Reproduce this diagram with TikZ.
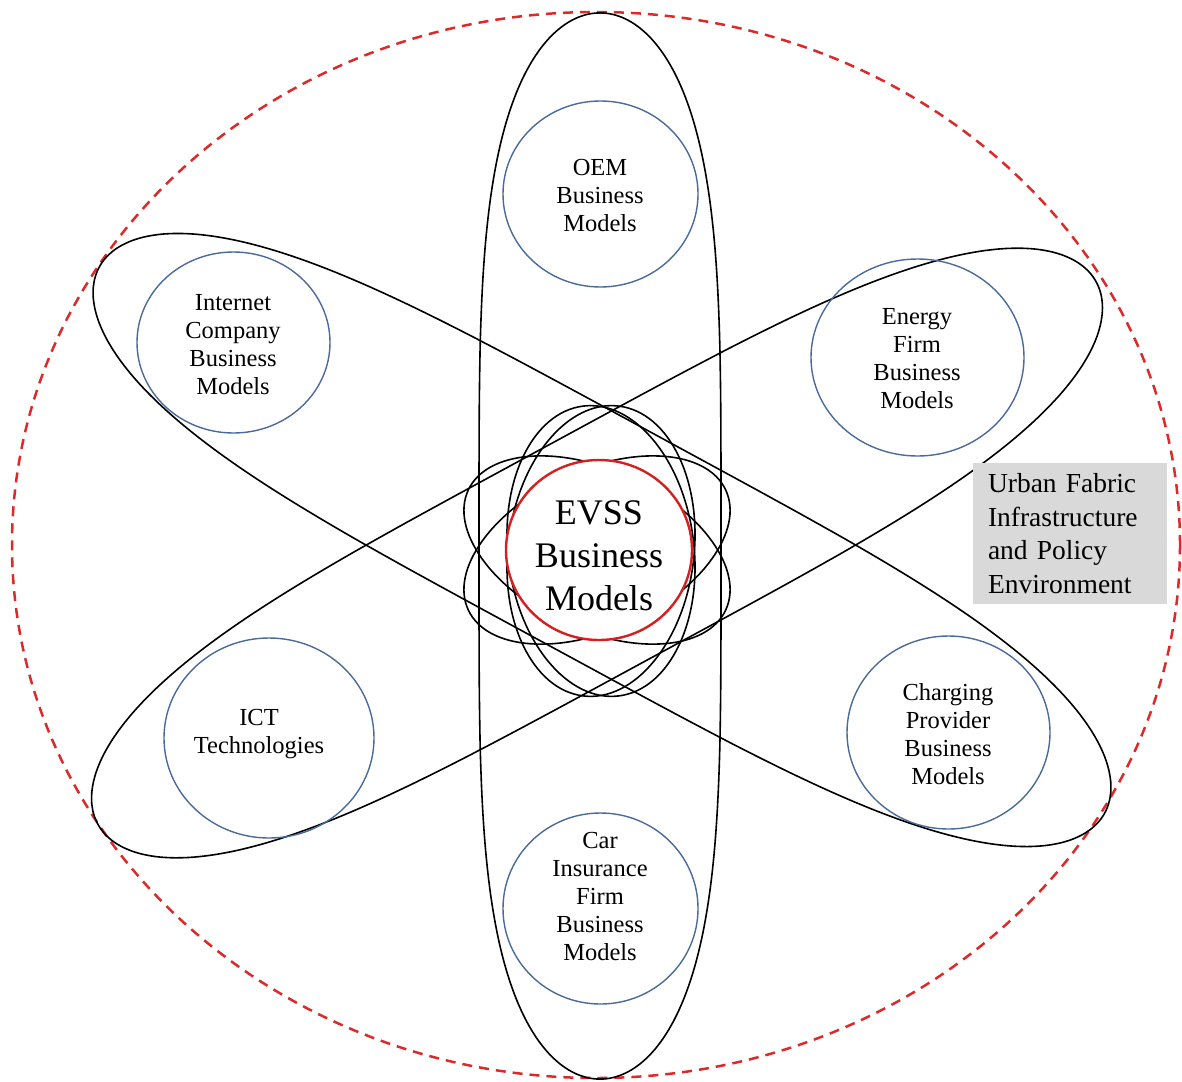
\documentclass[tikz,border=0pt]{standalone}
\usepackage{fontspec}
\setmainfont{Liberation Serif}
\definecolor{orbitblue}{HTML}{4A6A9A}
\definecolor{envred}{HTML}{DC2A2A}
\definecolor{coreRed}{HTML}{D42020}
\definecolor{boxgray}{HTML}{D9D9D9}
% elongated orbit: |u/A|^4 + |v/B|^2 = 1, long axis along the rotated x-axis
% #1 centre x, #2 centre y, #3 angle, #4 half length A, #5 half width B
\newcommand\longorbit[5]{%
  \draw[orbit,shift={(#1,#2)},rotate=#3]
    plot[domain=0:359.5,samples=720]
    ({#4*(cos(\x)<0 ? -1 : 1)*pow(abs(cos(\x))+0.00001,0.5)},
     {#5*sin(\x)}) -- cycle;}
\begin{document}
\begin{tikzpicture}[x=1pt,y=1pt,
  orbit/.style={draw=black,line width=1.6pt,line join=round},
  smallorbit/.style={draw=black,line width=1.6pt},
  modelring/.style={draw=orbitblue,line width=1.4pt},
  label/.style={align=center,font=\fontsize{24.5}{28}\selectfont,inner sep=0pt},
  corelabel/.style={align=center,font=\fontsize{36}{43}\selectfont,inner sep=0pt}]
\useasboundingbox (0,0) rectangle (1182,-1081);

% environment boundary
\draw[envred,line width=2.5pt,dash pattern=on 10pt off 7pt] (596,-545) ellipse [x radius=584pt, y radius=533pt];

% large orbits
\longorbit{600}{-546}{90}{533}{121}
\longorbit{602}{-540}{-28.5}{572}{118}
\longorbit{597}{-553}{28.5}{568}{118}

% small orbits around the core
\draw[smallorbit,rotate around={-25:(597,-550)}] (597,-550) ellipse [x radius=142pt, y radius=80pt];
\draw[smallorbit,rotate around={25:(597,-550)}] (597,-550) ellipse [x radius=142pt, y radius=80pt];
\draw[smallorbit,rotate around={-7:(601,-551)}] (601,-551) ellipse [x radius=93pt, y radius=146pt];
\draw[smallorbit,rotate around={7:(601,-551)}] (601,-551) ellipse [x radius=93pt, y radius=146pt];

% core
\draw[coreRed,line width=2.4pt,fill=white] (599,-550) ellipse [x radius=93pt, y radius=90pt];
\node[corelabel] (core) at (599,-556) {EVSS\\Business\\Models};

% business model rings
\draw[modelring] (600.5,-194) ellipse [x radius=97.5pt, y radius=93pt];
\draw[modelring] (233.5,-342.5) ellipse [x radius=96.5pt, y radius=90.5pt];
\draw[modelring] (917.5,-357.5) ellipse [x radius=106.5pt, y radius=98.5pt];
\draw[modelring] (269,-738) ellipse [x radius=105pt, y radius=100pt];
\draw[modelring] (948.5,-732.5) ellipse [x radius=101.5pt, y radius=96.5pt];
\draw[modelring] (600.5,-908.5) ellipse [x radius=97.5pt, y radius=95.5pt];

\node[label] (oem) at (600,-196) {OEM\\Business\\Models};
\node[label] (internet) at (233,-345) {Internet\\Company\\Business\\Models};
\node[label] (energy) at (917,-359) {Energy\\Firm\\Business\\Models};
\node[label] (ict) at (259,-734) {ICT\\Technologies};
\node[label] (charging) at (948,-734) {Charging\\Provider\\Business\\Models};
\node[label] (insurance) at (600,-896) {Car\\Insurance\\Firm\\Business\\Models};

% environment caption
\node[fill=boxgray,minimum width=194pt,minimum height=141pt,inner xsep=15pt,inner ysep=0pt,
  text width=164pt,align=left,font=\fontsize{27.5}{33.4}\selectfont] (urban) at (1070,-533.5)
  {Urban Fabric\\Infrastructure\\and Policy\\Environment};
\end{tikzpicture}
\end{document}
